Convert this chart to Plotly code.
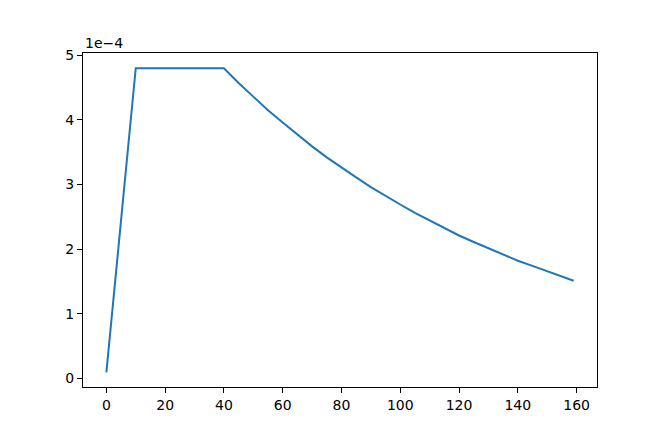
import plotly.graph_objects as go

# learning rate schedule (em unidades de 1e-4)
epocas = [0, 10, 40, 45, 50, 55, 60, 65, 70, 75, 80, 85, 90, 95, 100,
          105, 110, 115, 120, 125, 130, 135, 140, 145, 150, 155, 159]
lr = [0.09, 4.80, 4.80, 4.57, 4.36, 4.15, 3.96, 3.77, 3.59, 3.42, 3.26, 3.11,
      2.96, 2.82, 2.69, 2.56, 2.44, 2.32, 2.21, 2.11, 2.01, 1.91, 1.82, 1.74,
      1.66, 1.58, 1.51]

xticks = [0, 20, 40, 60, 80, 100, 120, 140, 160]
yticks = [0, 1, 2, 3, 4, 5]

fig = go.Figure()

fig.add_trace(go.Scatter(
    x=epocas,
    y=lr,
    mode='lines',
    line=dict(color='#1f77b4', width=2),
    showlegend=False
))

eixo = dict(
    showgrid=False,
    zeroline=False,
    showline=True,
    mirror=True,
    linecolor='black',
    linewidth=1,
    ticks='outside',
    ticklen=5,
    tickwidth=1,
    tickcolor='black',
    tickfont=dict(family='DejaVu Sans', size=14, color='black'),
)

# a pagina tem margem de 8px no body, por isso o tamanho e as margens descontam isso
fig.update_layout(
    width=656,
    height=434,
    margin=dict(l=75, r=67, t=45, b=55),
    plot_bgcolor='white',
    paper_bgcolor='white',
    xaxis=dict(eixo, range=[-7.95, 166.95], tickvals=xticks),
    yaxis=dict(eixo, range=[-0.135, 5.035], tickvals=yticks),
    annotations=[dict(
        text='1e\u22124',
        xref='paper', yref='paper',
        x=0, y=1,
        xanchor='left', yanchor='bottom',
        showarrow=False,
        font=dict(family='DejaVu Sans', size=14, color='black'),
    )],
)

fig.write_html("out.html")
